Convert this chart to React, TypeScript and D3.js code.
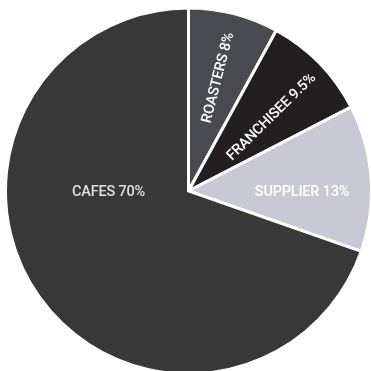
import React from "react";
import * as d3 from "d3";

const categories = ["ROASTERS", "FRANCHISEE", "SUPPLIER", "CAFES"];
const values = [8, 9.5, 13, 70];
const labels = ["ROASTERS 8%", "FRANCHISEE 9.5%", "SUPPLIER 13%", "CAFES 70%"];
const colors = ["#4a4b51", "#231f20", "#c9c8d5", "#383838"];

export default function App() {
  const W = 371, H = 371;
  const cx = 188.5, cy = 191, r = 183;
  const pie = d3.pie<number>().sort(null).value((d) => d)(values);
  const arc = d3.arc<d3.PieArcDatum<number>>().innerRadius(0).outerRadius(r);
  return (
    <svg width={W} height={H} style={{ position: "fixed", left: 0, top: 0 }}>
      <g transform={`translate(${cx},${cy})`}>
        {pie.map((p, i) => (
          <path key={categories[i]} d={arc(p) || ""} fill={colors[i]} stroke="#fff" strokeWidth={3} strokeLinejoin="miter" />
        ))}
        {pie.map((p, i) => {
          const mid = (p.startAngle + p.endAngle) / 2;
          let x: number, y: number, rot: number;
          if (i === 3) {
            x = -80; y = 0.5; rot = 0;
          } else if (i === 2) {
            x = 113.5; y = 0; rot = 0;
          } else {
            const lr = i === 0 ? 117 : 111;
            const a = i === 0 ? mid : mid + 0.04;
            x = lr * Math.sin(a); y = -lr * Math.cos(a);
            rot = (mid * 180) / Math.PI - 90;
          }
          return (
            <text key={"t" + i} x={0} y={0}
              transform={`translate(${x},${y}) rotate(${rot})`}
              textAnchor="middle" dominantBaseline="central"
              fill={i === 3 ? "#e0e0e0" : "#ffffff"}
              style={{ fontFamily: "Roboto, sans-serif", fontSize: 14.5, fontWeight: 500, letterSpacing: -0.2 }}>
              {labels[i]}
            </text>
          );
        })}
      </g>
    </svg>
  );
}
